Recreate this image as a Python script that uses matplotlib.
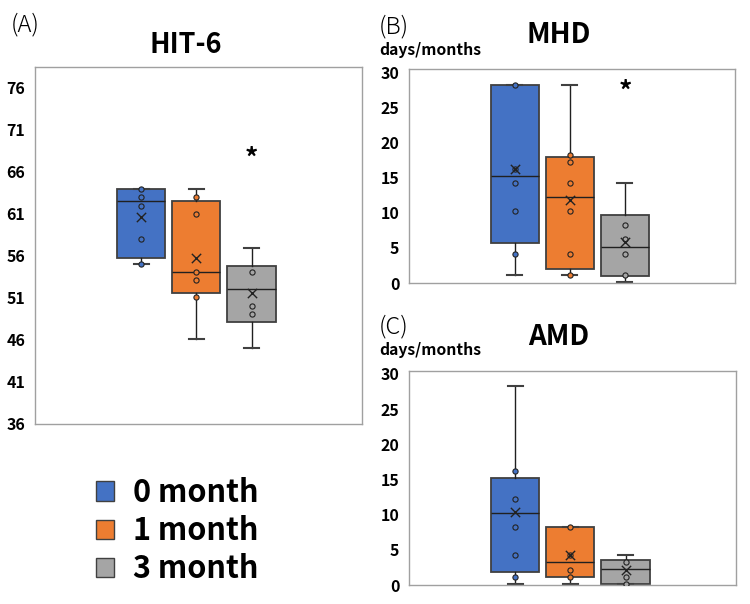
import numpy as np
import matplotlib.pyplot as plt
from matplotlib.patches import Patch

plt.rcParams['font.family'] = ['Noto Sans CJK JP', 'DejaVu Sans']

groups = ['0 month', '1 month', '3 month']
colors = ['#4472C4', '#ED7D31', '#A5A5A5']

# HIT-6
hit_lo = [55.1, 46.1, 45.1]
hit_q1 = [55.8, 51.6, 48.1]
hit_med = [62.6, 54.1, 52.1]
hit_q3 = [64.0, 62.6, 54.8]
hit_hi = [64.0, 64.0, 57.0]
hit_mean = [60.7, 55.8, 51.6]
hit_pts = [[64, 63, 62, 58, 55.1], [63, 61, 54.1, 53.1, 51.1], [54.1, 50.1, 49.1]]

# MHD
mhd_lo = [1.2, 1.2, 0.15]
mhd_q1 = [5.7, 1.95, 0.95]
mhd_med = [15.2, 12.2, 5.2]
mhd_q3 = [28.2, 18.0, 9.7]
mhd_hi = [28.2, 28.2, 14.3]
mhd_mean = [16.3, 11.8, 5.85]
mhd_pts = [[28.2, 16.3, 14.3, 10.2, 4.2], [18.3, 17.2, 14.3, 10.2, 4.2, 1.2], [8.2, 6.2, 4.2, 1.2]]

# AMD
amd_lo = [0.15, 0.15, 0.15]
amd_q1 = [1.9, 1.2, 0.1]
amd_med = [10.2, 3.2, 2.3]
amd_q3 = [15.2, 8.2, 3.5]
amd_hi = [28.2, 8.2, 4.2]
amd_mean = [10.3, 4.2, 2.2]
amd_pts = [[16.2, 12.2, 8.2, 4.2, 1.2], [8.2, 4.2, 2.2, 1.2], [3.2, 1.2, 0.15]]

pos = [1, 2, 3]
edge = '#404040'


def draw(ax, lo, q1, med, q3, hi, mean, pts, ylim, yticks, star=None):
    stats = []
    for i in range(3):
        stats.append(dict(whislo=lo[i], q1=q1[i], med=med[i], q3=q3[i],
                          whishi=hi[i], mean=mean[i], fliers=[]))
    bp = ax.bxp(stats, positions=pos, widths=0.87, patch_artist=True,
                showmeans=False, capwidths=0.27,
                boxprops=dict(edgecolor=edge, linewidth=1.3),
                medianprops=dict(color='#202020', linewidth=1),
                whiskerprops=dict(color='#202020', linewidth=1),
                capprops=dict(color='#404040', linewidth=1.5))
    for b, c in zip(bp['boxes'], colors):
        b.set_facecolor(c)
    for i in range(3):
        ax.scatter([pos[i]] * len(pts[i]), pts[i], s=14, facecolor=colors[i],
                   edgecolor='#222222', linewidth=0.8, zorder=4)
        ax.scatter([pos[i]], [mean[i]], marker='x', s=45, color='#222222',
                   linewidth=1, zorder=5)
    if star is not None:
        ax.text(3, star, '*', ha='center', va='center', fontsize=19,
                fontweight='bold')
    ax.set_xlim(-0.92, 5.0)
    ax.set_ylim(*ylim)
    ax.set_yticks(yticks)
    ax.set_xticks([])
    ax.tick_params(axis='y', length=0, pad=7, labelsize=11.5)
    for t in ax.get_yticklabels():
        t.set_fontweight('bold')
    for s in ax.spines.values():
        s.set_color('#a0a0a0')
        s.set_linewidth(1)


fig = plt.figure(figsize=(7.5, 6.04), dpi=100)
axA = fig.add_axes([35 / 750, 1 - 424 / 604, 327 / 750, 357 / 604])
axB = fig.add_axes([409 / 750, 1 - 283 / 604, 326 / 750, 214 / 604])
axC = fig.add_axes([409 / 750, 1 - 585 / 604, 327 / 750, 214 / 604])

draw(axA, hit_lo, hit_q1, hit_med, hit_q3, hit_hi, hit_mean, hit_pts,
     (36, 78.5), np.arange(36, 77, 5), star=67.5)
draw(axB, mhd_lo, mhd_q1, mhd_med, mhd_q3, mhd_hi, mhd_mean, mhd_pts,
     (0, 30.5), np.arange(0, 31, 5), star=27.2)
draw(axC, amd_lo, amd_q1, amd_med, amd_q3, amd_hi, amd_mean, amd_pts,
     (0, 30.4), np.arange(0, 31, 5))


def ftext(x, y, s, **kw):
    fig.text(x / 750, 1 - y / 604, s, **kw)


ftext(11, 25, '(A)', fontsize=17, fontweight='light', va='center')
ftext(379, 27, '(B)', fontsize=17, fontweight='light', va='center')
ftext(379, 327, '(C)', fontsize=17, fontweight='light', va='center')
ftext(186, 45, 'HIT-6', fontsize=19.5, fontweight='bold', ha='center', va='center')
ftext(559, 35, 'MHD', fontsize=20, fontweight='bold', ha='center', va='center')
ftext(559, 337, 'AMD', fontsize=20, fontweight='bold', ha='center', va='center')
ftext(379, 50, 'days/months', fontsize=11.3, fontweight='bold', va='center')
ftext(379, 350, 'days/months', fontsize=11.3, fontweight='bold', va='center')

handles = [Patch(facecolor=c, edgecolor=edge, linewidth=1) for c in colors]
fig.legend(handles, groups, loc='center left', bbox_to_anchor=(96 / 750, 1 - 531 / 604),
           frameon=False, prop={'weight': 'bold', 'size': 22}, borderpad=0,
           borderaxespad=0, handlelength=0.6, handleheight=0.6, handletextpad=0.6,
           labelspacing=0.2)

fig.savefig('out.png', dpi=100)
